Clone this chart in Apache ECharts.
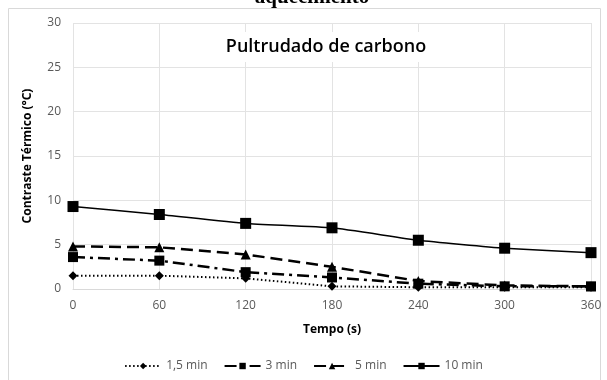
<!DOCTYPE html>
<html><head><meta charset="utf-8">
<script src="https://cdn.jsdelivr.net/npm/echarts@6/dist/echarts.min.js"></script>
<style>html,body{margin:0;padding:0;background:#fff}#c{width:607px;height:380px}</style>
</head><body><div id="c"></div>
<script>
const xTicks = [0, 60, 120, 180, 240, 300, 360];
const s15 = [1.5, 1.5, 1.2, 0.3, 0.2, 0.2, 0.2];
const s3 = [3.6, 3.2, 1.9, 1.3, 0.6, 0.3, 0.3];
const s5 = [4.8, 4.7, 3.9, 2.5, 0.9, 0.4, 0.3];
const s10 = [9.3, 8.4, 7.4, 6.9, 5.5, 4.6, 4.1];
const names = ['1,5 min', '3 min', '5 min', '10 min'];

const pair = arr => arr.map((v, i) => [xTicks[i], v]);
const chart = echarts.init(document.getElementById('c'));
const font = 'Open Sans';
chart.setOption({
  animation: false,
  graphic: [
    {type: 'rect', shape: {x: 8.5, y: 8.5, width: 592, height: 400}, style: {fill: 'none', stroke: '#d9d9d9', lineWidth: 1}, z: -1},
    {type: 'text', x: 312, y: 8, style: {text: 'aquecimento', font: 'bold 21px "Liberation Serif"', fill: '#000', align: 'center', verticalAlign: 'bottom'}},
    {type: 'text', x: 326, y: 47, z: 100, style: {text: 'Pultrudado de carbono', font: '600 18px "Open Sans"', fill: '#000', align: 'center', verticalAlign: 'middle', backgroundColor: '#fff', padding: [6, 6]}}
  ],
  grid: {left: 73, right: 16, top: 23, bottom: 91},
  xAxis: {
    type: 'value', min: 0, max: 360, interval: 60,
    name: 'Tempo (s)', nameLocation: 'middle', nameGap: 35,
    nameTextStyle: {fontFamily: font, fontWeight: 'bold', fontSize: 12, color: '#000'},
    axisLine: {lineStyle: {color: '#d9d9d9'}},
    axisTick: {show: false},
    axisLabel: {fontFamily: font, fontSize: 12, color: '#595959', margin: 11},
    splitLine: {show: true, lineStyle: {color: '#e3e3e3'}}
  },
  yAxis: {
    type: 'value', min: 0, max: 30, interval: 5,
    name: 'Contraste Térmico (°C)', nameLocation: 'middle', nameGap: 39,
    nameTextStyle: {fontFamily: font, fontWeight: 'bold', fontSize: 12, color: '#000'},
    axisLine: {show: false}, axisTick: {show: false},
    axisLabel: {fontFamily: font, fontSize: 12, color: '#595959', margin: 12},
    splitLine: {lineStyle: {color: '#e3e3e3'}}
  },
  legend: {
    bottom: 3, left: 'center', itemGap: 16, itemWidth: 36, itemHeight: 8,
    textStyle: {fontFamily: font, fontSize: 12, color: '#595959'},
    data: names
  },
  series: [
    {name: names[0], type: 'line', data: pair(s15), symbol: 'diamond', symbolSize: 9,
     itemStyle: {color: '#000'}, lineStyle: {color: '#000', width: 2, type: [1.5, 2.5]}},
    {name: names[1], type: 'line', data: pair(s3), symbol: 'rect', symbolSize: 10,
     itemStyle: {color: '#000'}, lineStyle: {color: '#000', width: 2.5, type: [12, 5, 3, 5]}},
    {name: names[2], type: 'line', data: pair(s5), symbol: 'triangle', symbolSize: 10,
     itemStyle: {color: '#000'}, lineStyle: {color: '#000', width: 2.5, type: [12, 6]}},
    {name: names[3], type: 'line', data: pair(s10), symbol: 'rect', symbolSize: 11, smooth: 0.15,
     itemStyle: {color: '#000'}, lineStyle: {color: '#000', width: 1.5}}
  ]
});
</script></body></html>
